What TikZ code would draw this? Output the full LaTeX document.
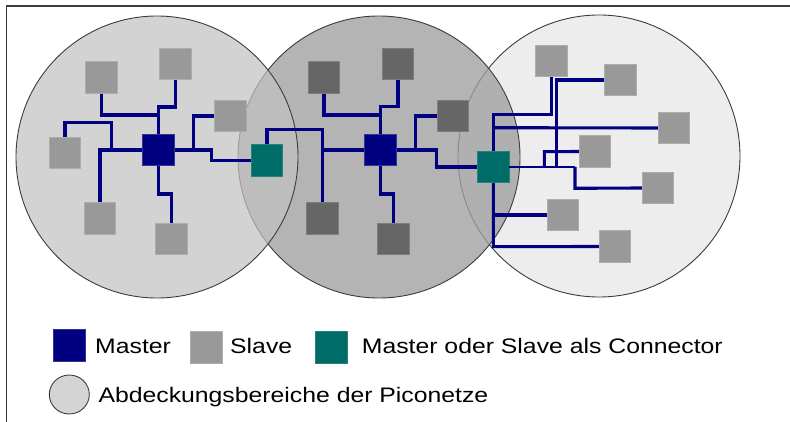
\documentclass[tikz,border=0pt]{standalone}
\usepackage{fontspec}
\setmainfont{Liberation Sans}[FakeStretch=1.18]
\usetikzlibrary{shapes.geometric}
\definecolor{navy}{RGB}{0,0,128}
\definecolor{slavegray}{RGB}{153,153,153}
\definecolor{slavedark}{RGB}{102,102,102}
\definecolor{teal2}{RGB}{0,108,104}
\definecolor{framegray}{RGB}{60,60,60}
\tikzset{
  sq/.style={rectangle, minimum size=31.5pt, inner sep=0pt, line width=0.8pt},
  master/.style={sq, fill=navy, draw=navy!80!white},
  slave/.style={sq, fill=slavegray, draw=slavegray!80!white},
  slavedk/.style={sq, fill=slavedark, draw=slavedark!85!white},
  conn/.style={sq, fill=teal2, draw=teal2!85!white},
  link/.style={draw=navy, line width=3.1pt, line join=miter},
  thinlink/.style={draw=navy, line width=2.4pt},
  zone/.style={circle, minimum size=282pt, inner sep=0pt, draw=framegray, line width=0.9pt},
  lbl/.style={anchor=base west, inner sep=0pt, font=\fontsize{21}{25}\selectfont}
}
\begin{document}
\begin{tikzpicture}[x=1pt,y=-1pt]
\useasboundingbox (0,0) rectangle (790,422);
\fill[white] (0,0) rectangle (790,422);
% frame
\draw[framegray, line width=1.6pt] (6.5,422) -- (6.5,6) -- (790,6);
% coverage zones (drawn right to left, semi-transparent)
\node[zone, fill={rgb,255:red,237;green,237;blue,237}] (Z3) at (599,156) {};
\node[zone, fill={rgb,255:red,159;green,159;blue,159}, fill opacity=0.78] (Z2) at (379,157) {};
\node[zone, fill={rgb,255:red,194;green,194;blue,194}, fill opacity=0.71] (Z1) at (157,157) {};

% ---- piconet 1 ----
\node[master] (M1) at (158.5,150) {};
\node[slave] (S1a) at (101.5,77.5) {};
\node[slave] (S1b) at (175.5,64) {};
\node[slave] (S1c) at (230.5,116) {};
\node[slave] (S1d) at (65,153) {};
\node[slave] (S1e) at (100,218.5) {};
\node[slave] (S1f) at (171.5,239) {};
\node[conn] (C1) at (267,160.5) {};

% ---- piconet 2 ----
\node[master] (M2) at (380.5,150) {};
\node[slavedk] (S2a) at (324,77.5) {};
\node[slavedk] (S2b) at (398,64) {};
\node[slavedk] (S2c) at (453,116) {};
\node[slavedk] (S2d) at (322.5,218.5) {};
\node[slavedk] (S2e) at (393.3,239) {};
\node[conn] (C2) at (493.3,167) {};

% ---- piconet 3 ----
\node[slave] (S3a) at (551.5,61) {};
\node[slave] (S3b) at (620.5,80) {};
\node[slave] (S3c) at (674,128) {};
\node[slave] (S3d) at (595,151.5) {};
\node[slave] (S3e) at (658,188) {};
\node[slave] (S3f) at (563,215) {};
\node[slave] (S3g) at (615,246.5) {};

% links piconet 1
\draw[link] (S1b.south) -- (175.5,107) -- (158.5,107) -- (M1.north);
\draw[link] (S1a.south) -- (101.5,115) -- (158.5,115);
\draw[link] (M1.west) -- (100,150) -- (S1e.north);
\draw[link] (S1d.north) -- (65,122.7) -- (111.7,122.7) -- (111.7,150);
\draw[link] (M1.south) -- (158.5,194) -- (171.5,194) -- (S1f.north);
\draw[link] (M1.east) -- (211.7,150) -- (211.7,160.5) -- (C1.west);
\draw[link] (193.7,150) -- (193.7,116) -- (S1c.west);

% links piconet 2
\draw[link] (S2b.south) -- (398,106.7) -- (380.5,106.7) -- (M2.north);
\draw[link] (S2a.south) -- (324,115) -- (380.5,115);
\draw[link] (C1.north) -- (267,129.5) -- (322.5,129.5) -- (322.5,150);
\draw[link] (M2.west) -- (322.5,150) -- (S2d.north);
\draw[link] (M2.south) -- (380.5,194) -- (393.3,194) -- (S2e.north);
\draw[link] (M2.east) -- (436.7,150) -- (436.7,167) -- (C2.west);
\draw[link] (415.7,150) -- (415.7,116) -- (S2c.west);

% links piconet 3
\draw[link] (S3a.south) -- (551.5,114.3) -- (493.3,114.3) -- (C2.north);
\draw[link] (493.3,127.7) -- (S3c.west);
\draw[link] (S3b.west) -- (556.7,80) -- (556.7,167);
\draw[thinlink] (C2.east) -- (575,167);
\draw[link] (575,167) -- (575,188.3) -- (S3e.west);
\draw[link] (S3d.west) -- (544.3,151.7) -- (544.3,167);
\draw[link] (C2.south) -- (493.3,246.7) -- (S3g.west);
\draw[link] (493.3,215) -- (S3f.west);

% legend
\node[master, minimum size=32pt] (LM) at (69,345) {};
\node[lbl] (LMt) at (95,353) {Master};
\node[slave, minimum size=32pt] (LS) at (206,347) {};
\node[lbl] (LSt) at (230,353) {Slave};
\node[conn, minimum size=32pt] (LC) at (331.7,347) {};
\node[lbl] (LCt) at (361.7,353) {Master oder Slave als Connector};
\node[ellipse, minimum width=40pt, minimum height=39pt, inner sep=0pt, fill={rgb,255:red,212;green,212;blue,212}, draw=framegray, line width=0.9pt] (LZ) at (69.3,394.5) {};
\node[lbl] (LZt) at (98.3,402.5) {Abdeckungsbereiche der Piconetze};
\end{tikzpicture}
\end{document}
